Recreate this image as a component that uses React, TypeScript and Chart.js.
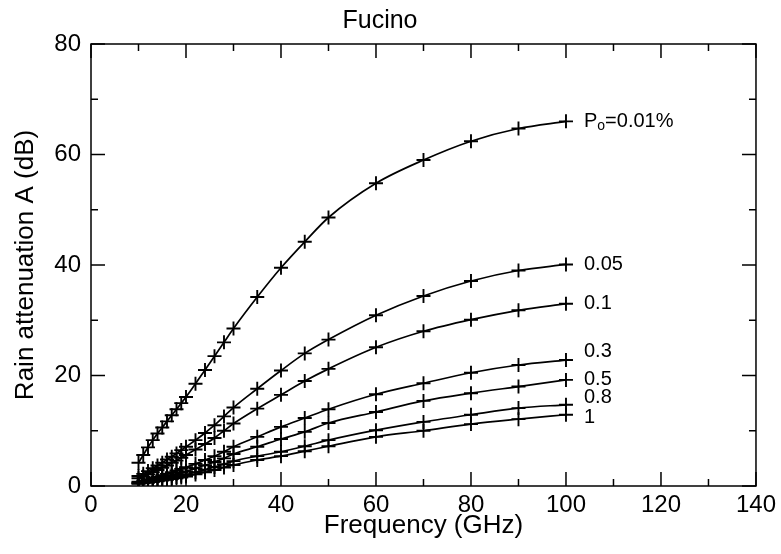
import { useEffect, useRef } from "react";
import { Chart, registerables } from "chart.js";

Chart.register(...registerables);

const FONT = "'Liberation Sans', Arial, Helvetica, sans-serif";

// Frequencies (GHz)
const frequencies = [10, 11, 12, 13, 14, 15, 16, 17, 18, 19, 20, 22, 24, 26, 28, 30, 35, 40, 45, 50, 60, 70, 80, 90, 100];

// Rain attenuation A (dB) for each exceedance percentage Po
const p001 = [4.2, 5.6, 7.0, 8.3, 9.5, 10.6, 11.7, 12.8, 13.9, 15.0, 16.1, 18.5, 21.0, 23.5, 26.0, 28.5, 34.2, 39.5, 44.2, 48.6, 54.8, 59.0, 62.4, 64.7, 66.0];
const p005 = [1.8, 2.2, 2.7, 3.2, 3.7, 4.2, 4.8, 5.3, 5.9, 6.5, 7.1, 8.3, 9.6, 11.0, 12.6, 14.2, 17.6, 20.9, 24.0, 26.5, 30.9, 34.4, 37.1, 39.0, 40.1];
const p01 = [1.4, 1.7, 2.1, 2.5, 2.9, 3.3, 3.7, 4.2, 4.6, 5.1, 5.6, 6.6, 7.6, 8.7, 10.0, 11.3, 14.0, 16.5, 19.0, 21.2, 25.1, 28.0, 30.1, 31.8, 33.0];
const p03 = [0.8, 1.0, 1.2, 1.45, 1.7, 1.95, 2.2, 2.5, 2.8, 3.1, 3.4, 4.0, 4.7, 5.4, 6.2, 7.1, 8.9, 10.7, 12.3, 13.9, 16.6, 18.6, 20.5, 21.9, 22.8];
const p05 = [0.6, 0.75, 0.9, 1.1, 1.3, 1.5, 1.7, 1.9, 2.15, 2.4, 2.65, 3.2, 3.75, 4.35, 5.0, 5.8, 7.1, 8.5, 9.8, 11.4, 13.4, 15.4, 16.8, 18.0, 19.2];
const p08 = [0.5, 0.6, 0.72, 0.86, 1.0, 1.15, 1.3, 1.47, 1.65, 1.85, 2.05, 2.5, 2.95, 3.45, 3.95, 4.5, 5.4, 6.2, 7.2, 8.3, 10.1, 11.6, 12.9, 14.1, 14.7];
const p1 = [0.42, 0.5, 0.6, 0.72, 0.85, 0.98, 1.1, 1.25, 1.4, 1.55, 1.72, 2.1, 2.5, 2.9, 3.35, 3.8, 4.7, 5.4, 6.3, 7.2, 8.9, 10.0, 11.2, 12.1, 12.9];

const seriesValues = [p001, p005, p01, p03, p05, p08, p1];
const seriesLabels = ["0.01%", "0.05", "0.1", "0.3", "0.5", "0.8", "1"];

const xMin = 0;
const xMax = 140;
const xStep = 20;
const yMin = 0;
const yMax = 80;
const yStep = 20;

const labelNudge = [0, 0, 0, -9, 0, -7, 3];

const framePlugin = {
  id: "frameTicks",
  afterDraw(chart: any) {
    const { ctx, chartArea: a, scales } = chart;
    const x = scales.x;
    const y = scales.y;
    ctx.save();
    ctx.strokeStyle = "#000";
    ctx.lineWidth = 1.5;
    ctx.strokeRect(a.left, a.top, a.right - a.left, a.bottom - a.top);
    ctx.beginPath();
    for (let v = xMin; v <= xMax; v += xStep / 2) {
      const px = x.getPixelForValue(v);
      const len = v % xStep === 0 ? 14 : 7;
      ctx.moveTo(px, a.bottom);
      ctx.lineTo(px, a.bottom - len);
      ctx.moveTo(px, a.top);
      ctx.lineTo(px, a.top + len);
    }
    for (let v = yMin; v <= yMax; v += yStep / 2) {
      const py = y.getPixelForValue(v);
      const len = v % yStep === 0 ? 14 : 7;
      ctx.moveTo(a.left, py);
      ctx.lineTo(a.left + len, py);
      ctx.moveTo(a.right, py);
      ctx.lineTo(a.right - len, py);
    }
    ctx.stroke();

    // curve labels
    ctx.fillStyle = "#000";
    ctx.textBaseline = "middle";
    ctx.textAlign = "left";
    const lastF = frequencies[frequencies.length - 1];
    seriesValues.forEach((vals, i) => {
      const lx = x.getPixelForValue(lastF) + 18;
      const ly = y.getPixelForValue(vals[vals.length - 1]) + labelNudge[i];
      ctx.font = `20px ${FONT}`;
      if (i === 0) {
        ctx.fillText("P", lx, ly);
        const wP = ctx.measureText("P").width;
        ctx.font = `14px ${FONT}`;
        ctx.fillText("o", lx + wP, ly + 5);
        const wo = ctx.measureText("o").width;
        ctx.font = `20px ${FONT}`;
        ctx.fillText("=" + seriesLabels[i], lx + wP + wo, ly);
      } else {
        ctx.fillText(seriesLabels[i], lx, ly);
      }
    });
    ctx.restore();
  },
};

export default function App() {
  const canvasRef = useRef<HTMLCanvasElement | null>(null);

  useEffect(() => {
    if (!canvasRef.current) return;
    const datasets = seriesValues.map((vals, i) => ({
      label: seriesLabels[i],
      data: frequencies.map((f, j) => ({ x: f, y: vals[j] })),
      borderColor: "#000",
      backgroundColor: "#000",
      borderWidth: 1.7,
      pointStyle: "cross" as const,
      pointRadius: 7,
      pointBorderWidth: 1.9,
      pointBorderColor: "#000",
      cubicInterpolationMode: "monotone" as const,
      fill: false,
    }));

    const chart = new Chart(canvasRef.current, {
      type: "line",
      data: { datasets },
      options: {
        animation: false,
        responsive: false,
        devicePixelRatio: 1,
        layout: { padding: { right: 21, left: 0, top: 0, bottom: 0 } },
        plugins: {
          legend: { display: false },
          tooltip: { enabled: false },
          title: {
            display: true,
            text: "Fucino",
            color: "#000",
            font: { family: FONT, size: 25, weight: "normal" },
            padding: { top: 6, bottom: 8 },
          },
        },
        scales: {
          x: {
            type: "linear",
            min: xMin,
            max: xMax,
            grid: { display: false, drawTicks: false },
            border: { display: false },
            ticks: {
              stepSize: xStep,
              color: "#000",
              padding: 5,
              font: { family: FONT, size: 24 },
              maxRotation: 0,
            },
            title: {
              display: true,
              text: "Frequency (GHz)",
              color: "#000",
              font: { family: FONT, size: 26 },
              padding: { top: 0, bottom: 13 },
            },
            afterFit: (s: any) => {
              s.height = 68;
            },
          },
          y: {
            type: "linear",
            min: yMin,
            max: yMax,
            grid: { display: false, drawTicks: false },
            border: { display: false },
            ticks: {
              stepSize: yStep,
              color: "#000",
              padding: 10,
              font: { family: FONT, size: 24 },
            },
            title: {
              display: true,
              text: "Rain attenuation A (dB)",
              color: "#000",
              font: { family: FONT, size: 26 },
              padding: { top: 10, bottom: 0 },
            },
            afterFit: (s: any) => {
              s.width = 91;
            },
          },
        },
      },
      plugins: [framePlugin],
    });
    return () => chart.destroy();
  }, []);

  return (
    <div style={{ position: "fixed", left: 0, top: 0, width: 781, height: 554, background: "#fff" }}>
      <canvas ref={canvasRef} width={781} height={554} />
    </div>
  );
}
